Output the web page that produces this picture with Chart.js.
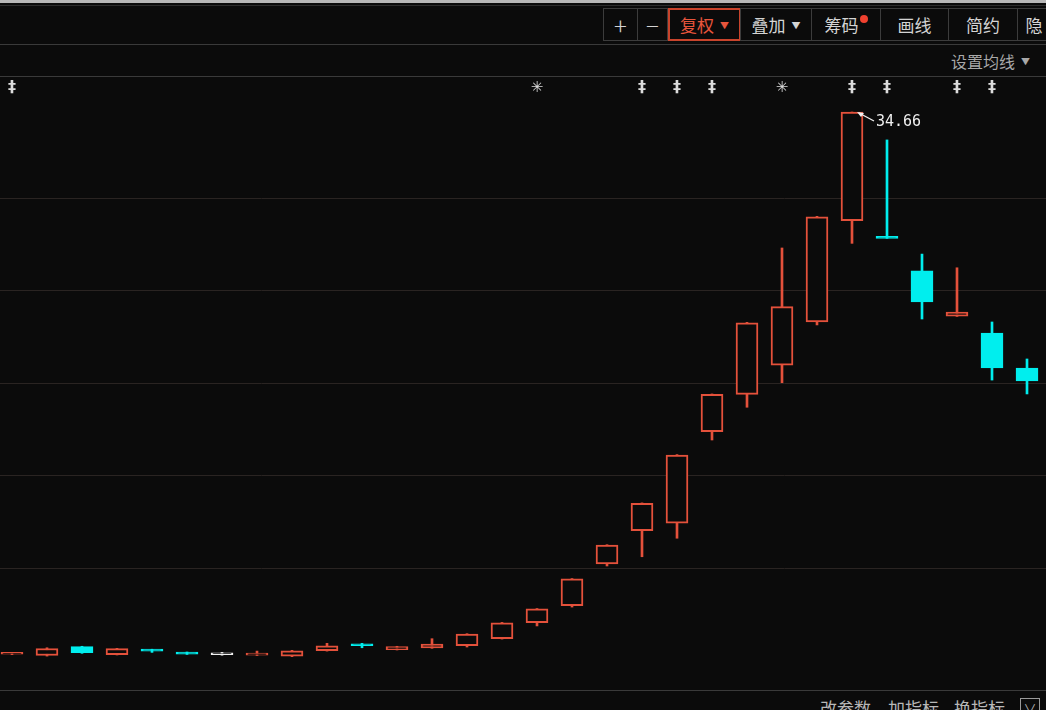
<!DOCTYPE html>
<html>
  <head>
    <meta charset="utf-8">
    <script src="https://cdn.jsdelivr.net/npm/chart.js@4.4.1/dist/chart.umd.min.js"></script>
    <style>
      html, body { margin: 0; padding: 0; background: #0b0b0b; width: 1046px; height: 710px; overflow: hidden; }
      body { position: relative; font-family: "Noto Sans CJK SC", "Noto Sans", sans-serif; color: #d6d6d6; }
      .topstrip { position: absolute; left: 0; top: 0; width: 1046px; height: 3px; background: #b8b8b8; }
      .hline { position: absolute; left: 0; width: 1046px; height: 1px; background: #3a3a3a; }
      .btn { position: absolute; top: 8px; height: 33px; box-sizing: border-box; border: 1px solid #3c3c3c;
             font-size: 17px; line-height: 31px; text-align: center; color: #d4d4d4; }
      .btn.big { font-size: 24px; font-weight: 300; }
      .btn.on { border: 2px solid #c9442c; color: #e8553c; line-height: 29px; }
      .caret { font-size: 9px; vertical-align: 3px; margin-left: 6px; }
      .dot { display: inline-block; width: 8px; height: 8px; border-radius: 50%; background: #f0412f; vertical-align: 9px; margin-left: 1px; }
      .row2 { position: absolute; right: 16px; top: 49px; font-size: 16px; color: #a8a8a8; }
      .bottom { position: absolute; top: 698px; font-size: 17px; color: #b8b8b8; line-height: 20px; }
      .vbox { position: absolute; left: 1020px; top: 698px; width: 20px; height: 20px; border: 1px solid #9a9a9a; box-sizing: border-box;
              font-size: 13px; line-height: 18px; text-align: center; color: #b8b8b8; }
      #wrap { position: absolute; left: 0; top: 76px; width: 1046px; height: 614px; }
    </style>
  </head>

  <body>
    <div class="topstrip"></div>
    <div class="hline" style="top:5px;background:#2c2c2c"></div>
    <div class="hline" style="top:44px"></div>
    <div class="hline" style="top:76px"></div>
    <div class="hline" style="top:690px"></div>

    <div class="btn big" style="left:603px;width:35px">+</div>
    <div class="btn big" style="left:637px;width:31px">−</div>
    <div class="btn on" style="left:668px;width:73px">复权<span class="caret">▼</span></div>
    <div class="btn" style="left:740px;width:72px">叠加<span class="caret">▼</span></div>
    <div class="btn" style="left:811px;width:70px">筹码<span class="dot"></span></div>
    <div class="btn" style="left:880px;width:69px">画线</div>
    <div class="btn" style="left:948px;width:70px">简约</div>
    <div class="btn" style="left:1017px;width:34px">隐</div>
    <div class="row2">设置均线<span class="caret">▼</span></div>

    <div class="bottom" style="left:820px">改参数</div>
    <div class="bottom" style="left:888px">加指标</div>
    <div class="bottom" style="left:954px">换指标</div>
    <div class="vbox">∨</div>

    <div id="wrap"><canvas id="canvas"></canvas></div>

    <script>
      // monthly k-line
      const opens  = [5.35, 5.28, 5.76, 5.33, 5.56, 5.45, 5.32, 5.30, 5.24, 5.54,
                      5.85, 5.60, 5.69, 5.81, 6.19, 7.05, 7.97, 10.23, 12.03, 12.43,
                      17.38, 19.40, 20.98, 23.31, 28.78, 27.93, 26.08, 23.63, 22.71, 20.82];
      const closes = [5.42, 5.66, 5.43, 5.65, 5.52, 5.36, 5.32, 5.40, 5.54, 5.81,
                      5.81, 5.76, 5.90, 6.44, 7.05, 7.80, 9.42, 11.25, 13.51, 16.12,
                      19.40, 23.27, 24.14, 29.00, 34.66, 27.83, 24.39, 23.85, 20.82, 20.12];
      const lows   = [5.33, 5.25, 5.40, 5.31, 5.45, 5.34, 5.30, 5.28, 5.22, 5.52,
                      5.70, 5.58, 5.67, 5.74, 6.17, 6.88, 7.90, 10.12, 10.62, 11.62,
                      16.93, 18.70, 20.03, 23.15, 27.56, 27.83, 23.47, 23.61, 20.17, 19.42];
      const highs  = [5.44, 5.70, 5.78, 5.67, 5.62, 5.47, 5.45, 5.52, 5.56, 5.94,
                      5.94, 5.78, 6.19, 6.46, 7.07, 7.82, 9.44, 11.27, 13.53, 16.14,
                      19.42, 23.29, 27.31, 29.02, 34.66, 33.15, 26.98, 26.24, 23.31, 21.31];
      const gridLevels = [10, 15, 20, 25, 30];
      const markIdx  = [0, 15, 18, 19, 20, 22, 24, 25, 27, 28];
      const markType = ['‡', '✳', '‡', '‡', '‡', '✳', '‡', '‡', '‡', '‡'];
      const maxLabel = '34.66';

      const UP = '#e4513b', DOWN = '#00eeee', FLAT = '#f2f2f2', BG = '#0b0b0b';
      const colorOf = (i) => closes[i] > opens[i] ? UP : (closes[i] < opens[i] ? DOWN : FLAT);
      const idx = opens.map((d, i) => i);

      const overlay = {
        id: 'overlay',
        afterDraw(chart) {
          const ctx = chart.ctx, x = chart.scales.x, y = chart.scales.y;
          ctx.save();
          // marker row
          ctx.fillStyle = '#dcdcdc';
          ctx.textAlign = 'center';
          ctx.textBaseline = 'middle';
          markIdx.forEach((i, k) => {
            ctx.font = markType[k] === '✳' ? 'bold 15px DejaVu Sans' : 'bold 16px DejaVu Sans';
            ctx.fillText(markType[k], x.getPixelForValue(i), 12);
          });
          // max price label
          const hi = highs.indexOf(Math.max(...highs));
          const px = x.getPixelForValue(hi) + 5, py = y.getPixelForValue(highs[hi]);
          ctx.strokeStyle = '#f0f0f0';
          ctx.fillStyle = '#f0f0f0';
          ctx.lineWidth = 1.2;
          ctx.beginPath();
          ctx.moveTo(px + 2, py + 1);
          ctx.lineTo(px + 17, py + 9);
          ctx.stroke();
          ctx.beginPath();
          ctx.moveTo(px, py);
          ctx.lineTo(px + 7, py + 1);
          ctx.lineTo(px + 4, py + 5);
          ctx.closePath();
          ctx.fill();
          ctx.font = '15px DejaVu Sans Mono';
          ctx.textAlign = 'left';
          ctx.fillText(maxLabel, px + 19, py + 10);
          ctx.restore();
        }
      };

      new Chart(document.getElementById('canvas').getContext('2d'), {
        type: 'bar',
        data: {
          datasets: [
            {
              label: 'wick',
              data: idx.map((i) => ({ x: i, y: [lows[i], highs[i]] })),
              backgroundColor: idx.map(colorOf),
              barThickness: 2,
              minBarLength: 2,
              grouped: false,
              order: 2,
            },
            {
              label: 'body',
              data: idx.map((i) => ({ x: i, y: [opens[i], closes[i]] })),
              backgroundColor: idx.map((i) => colorOf(i) === DOWN ? DOWN : BG),
              borderColor: idx.map(colorOf),
              borderWidth: 2,
              borderSkipped: false,
              barThickness: 22,
              minBarLength: 2,
              grouped: false,
              order: 1,
            },
          ],
        },
        options: {
          responsive: true,
          maintainAspectRatio: false,
          animation: false,
          layout: { padding: 0 },
          plugins: { legend: { display: false }, tooltip: { enabled: false } },
          scales: {
            x: {
              type: 'linear',
              display: false,
              offset: false,
              min: -12 / 35,
              max: 1034 / 35,
              grid: { display: false },
            },
            y: {
              min: 3.417,
              max: 36.606,
              afterBuildTicks: (s) => { s.ticks = gridLevels.map((v) => ({ value: v })); },
              ticks: { display: false },
              border: { display: false },
              grid: { color: '#2a2422', drawTicks: false, lineWidth: 1 },
            },
          },
        },
        plugins: [overlay],
      });
    </script>
  </body>
</html>
